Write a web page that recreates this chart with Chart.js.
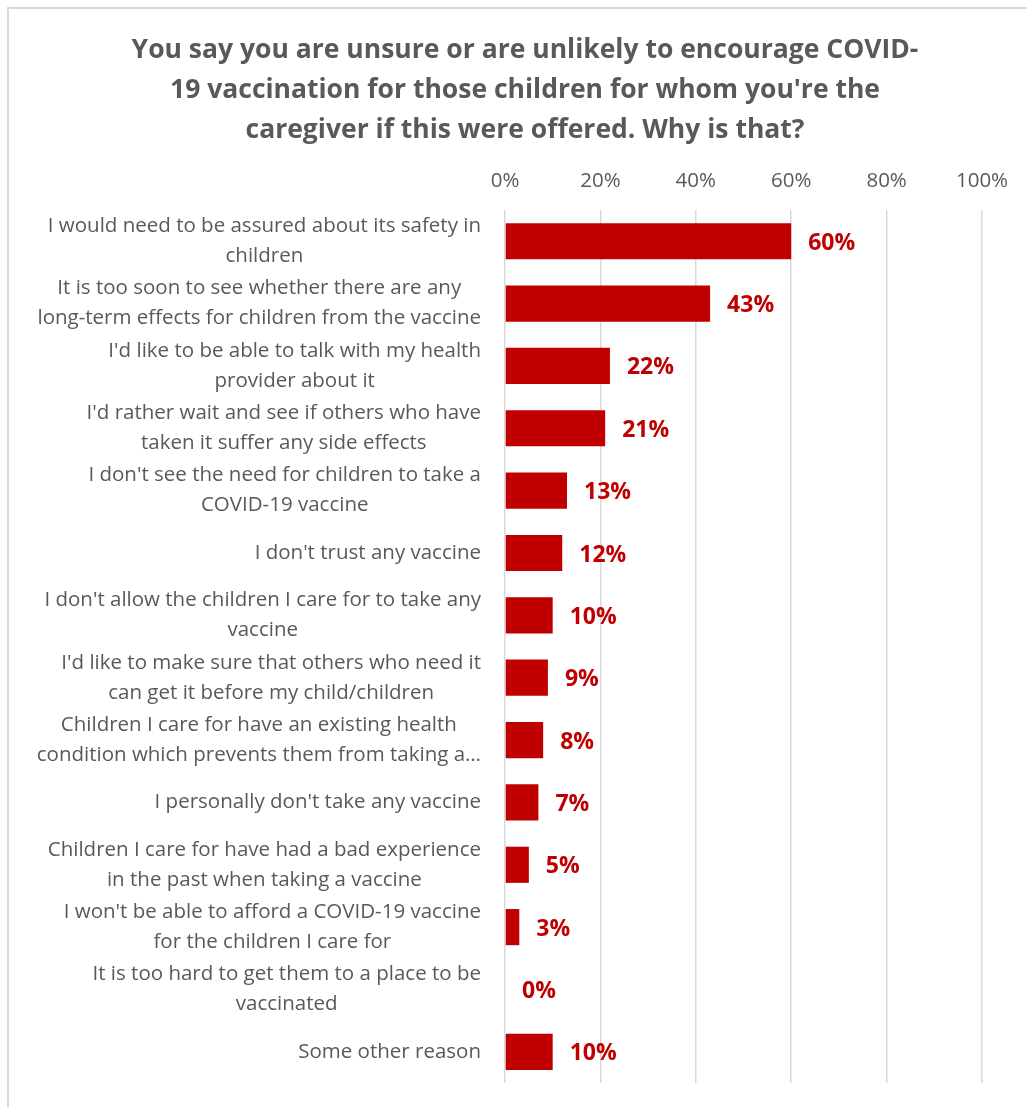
<!DOCTYPE html>
<html>
<head>
<meta charset="utf-8">
<script src="https://cdn.jsdelivr.net/npm/chart.js@4"></script>
<style>
  body { margin: 0; background: #fff; }
  #wrap { width: 1027px; height: 1107px; }
</style>
</head>
<body>
<div id="wrap"><canvas id="chart" width="1027" height="1107"></canvas></div>
<script>
const titleLines = [
  "You say you are unsure or are unlikely to encourage COVID-",
  "19 vaccination for those children for whom you're the",
  "caregiver if this were offered. Why is that?"
];
const categories = [
  ["I would need to be assured about its safety in", "children"],
  ["It is too soon to see whether there are any", "long-term effects for children from the vaccine"],
  ["I'd like to be able to talk with my health", "provider about it"],
  ["I'd rather wait and see if others who have", "taken it suffer any side effects"],
  ["I don't see the need for children to take a", "COVID-19 vaccine"],
  ["I don't trust any vaccine"],
  ["I don't allow the children I care for to take any", "vaccine"],
  ["I'd like to make sure that others who need it", "can get it before my child/children"],
  ["Children I care for have an existing health", "condition which prevents them from taking a…"],
  ["I personally don't take any vaccine"],
  ["Children I care for have had a bad experience", "in the past when taking a vaccine"],
  ["I won't be able to afford a COVID-19 vaccine", "for the children I care for"],
  ["It is too hard to get them to a place to be", "vaccinated"],
  ["Some other reason"]
];
const percentages = [60, 43, 22, 21, 13, 12, 10, 9, 8, 7, 5, 3, 0, 10];
const axisTicks = [0, 20, 40, 60, 80, 100];

const grey = '#595959';
const barRed = '#C00000';
const labelFont = '20.5px "Open Sans", sans-serif';

// light frame around the chart
const framePlugin = {
  id: 'frame',
  beforeDraw(chart) {
    const c = chart.ctx;
    c.save();
    c.strokeStyle = '#D9D9D9';
    c.lineWidth = 2;
    c.beginPath();
    c.moveTo(8, 1107);
    c.lineTo(8, 8);
    c.lineTo(1027, 8);
    c.stroke();
    c.restore();
  }
};

// category labels: block right aligned to the axis, lines centred inside it
const categoryLabels = {
  id: 'categoryLabels',
  afterDraw(chart) {
    const c = chart.ctx;
    const yScale = chart.scales.y;
    const right = chart.chartArea.left - 24;
    const lineH = 30;
    c.save();
    c.font = labelFont;
    c.fillStyle = grey;
    c.textAlign = 'center';
    c.textBaseline = 'middle';
    categories.forEach((lines, i) => {
      const y = yScale.getPixelForValue(i);
      const w = Math.max(...lines.map(l => c.measureText(l).width));
      const cx = right - w / 2;
      const y0 = y - (lines.length - 1) * lineH / 2;
      lines.forEach((l, k) => c.fillText(l, cx, y0 + k * lineH));
    });
    c.restore();
  }
};

// value labels at the end of each bar
const valueLabels = {
  id: 'valueLabels',
  afterDatasetsDraw(chart) {
    const c = chart.ctx;
    const meta = chart.getDatasetMeta(0);
    c.save();
    c.font = 'bold 23px "Open Sans", sans-serif';
    c.fillStyle = barRed;
    c.textAlign = 'left';
    c.textBaseline = 'middle';
    meta.data.forEach((bar, i) => {
      c.fillText(percentages[i] + '%', bar.x + 17, bar.y + 2);
    });
    c.restore();
  }
};

const ctx = document.getElementById('chart').getContext('2d');
const chart = new Chart(ctx, {
  type: 'bar',
  data: {
    labels: categories,
    datasets: [{
      data: percentages,
      backgroundColor: barRed,
      categoryPercentage: 1,
      barPercentage: 0.58
    }]
  },
  options: {
    indexAxis: 'y',
    responsive: false,
    animation: false,
    devicePixelRatio: 1,
    layout: { padding: { top: 8, left: 68, right: 45, bottom: 24 } },
    plugins: {
      legend: { display: false },
      tooltip: { enabled: false },
      title: {
        display: true,
        text: titleLines,
        color: grey,
        font: { family: '"Open Sans", sans-serif', size: 26.5, weight: 'bold', lineHeight: 1.51 },
        padding: { top: 22, bottom: 8 }
      }
    },
    scales: {
      x: {
        position: 'top',
        min: 0,
        max: 100,
        afterBuildTicks(scale) {
          scale.ticks = axisTicks.map(v => ({ value: v }));
        },
        afterFit(scale) { scale.height = 52; },
        ticks: {
          color: grey,
          padding: 17,
          font: { family: '"Open Sans", sans-serif', size: 20.5 },
          callback: v => v + '%'
        },
        grid: { color: '#D9D9D9', lineWidth: 1.5, drawTicks: false },
        border: { display: false }
      },
      y: {
        afterFit(scale) { scale.width = 437; },
        ticks: { display: false },
        grid: { display: false },
        border: { display: false }
      }
    }
  },
  plugins: [framePlugin, categoryLabels, valueLabels]
});
</script>
</body>
</html>
